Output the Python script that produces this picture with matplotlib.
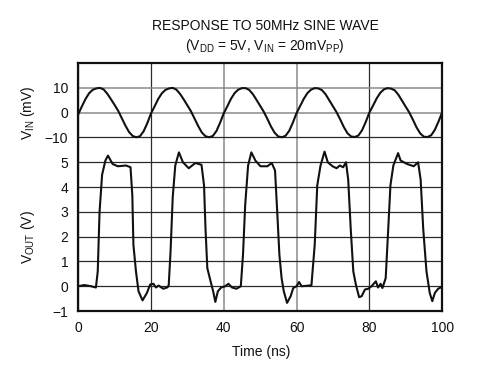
import matplotlib
matplotlib.use("Agg")
import matplotlib.pyplot as plt
import matplotlib.transforms as mtransforms

plt.rcParams['font.family'] = ['Liberation Sans', 'DejaVu Sans']
plt.rcParams['mathtext.fontset'] = 'custom'
plt.rcParams['mathtext.rm'] = 'Liberation Sans'

# VIN (mV), one sample per ns, 0..100 ns
vin_t = list(range(0, 101))
vin_mv = [
    -0.8, 2.4, 5.4, 7.8, 9.2, 9.8, 10.0, 9.4, 7.7, 5.5,
    3.2, 0.8, -2.2, -5.2, -7.8, -9.4, -9.9, -9.5, -7.5, -4.3,
    -0.4, 2.5, 5.5, 7.8, 9.2, 9.8, 10.0, 9.3, 7.6, 5.4,
    3.0, 0.6, -2.4, -5.4, -8.0, -9.5, -9.9, -9.4, -7.4, -4.1,
    -0.3, 2.6, 5.6, 7.9, 9.3, 9.9, 9.9, 9.2, 7.5, 5.2,
    2.8, 0.4, -2.5, -5.6, -8.1, -9.6, -9.9, -9.3, -7.3, -4.0,
    -0.2, 2.7, 5.6, 7.9, 9.3, 9.9, 9.8, 9.1, 7.4, 5.0,
    2.6, 0.2, -2.7, -5.8, -8.3, -9.6, -9.8, -9.2, -7.1, -3.8,
    0.0, 2.8, 5.7, 8.0, 9.4, 9.9, 9.7, 9.0, 7.2, 4.8,
    2.4, 0.0, -2.9, -6.0, -8.4, -9.7, -9.8, -9.1, -6.9, -3.6,
    0.1,
]

# VOUT (V)
vout_t = [
    0.0, 1.7, 3.6, 4.9, 5.4, 5.9, 6.6, 7.5, 8.2, 9.5, 10.9, 13.2, 14.4,
    14.9, 15.2, 15.9, 16.6, 17.7, 18.9, 19.8, 20.7, 21.4, 22.1, 23.4, 24.6,
    24.9, 25.4, 26.0, 26.7, 27.7, 28.8, 30.4, 32.2, 33.9,
    34.6, 35.0, 35.5, 36.4, 37.1, 37.7, 38.4, 39.3, 40.4, 41.3, 42.3, 43.5, 44.7,
    45.3, 45.9, 46.7, 47.6, 48.7, 50.1, 52.0, 53.2, 54.1,
    54.7, 55.3, 55.9, 56.5, 57.4, 58.4, 59.1, 60.0, 60.7, 61.4, 64.1,
    65.0, 65.7, 66.6, 67.7, 68.6, 69.9, 71.0, 71.9, 72.8, 73.6,
    74.2, 74.9, 75.6, 76.3, 77.2, 77.9, 78.8, 79.7, 80.6, 81.8, 82.4, 83.1, 83.6,
    84.5, 85.2, 85.8, 86.6, 87.9, 88.6, 90.4, 92.2, 93.4,
    94.1, 94.8, 95.7, 96.6, 97.3, 98.0, 98.9, 100.0,
]
vout_v = [
    0.0, 0.05, 0.0, -0.05, 0.6, 3.0, 4.5, 5.07, 5.27, 4.93, 4.84, 4.87, 4.8,
    3.67, 1.67, 0.6, -0.2, -0.57, -0.27, 0.07, 0.1, -0.05, 0.03, -0.1, -0.04,
    0.05, 1.4, 3.6, 4.87, 5.4, 5.0, 4.76, 4.97, 4.9,
    4.07, 2.33, 0.73, 0.2, -0.2, -0.63, -0.2, -0.05, 0.0, 0.1, -0.05, -0.1, 0.0,
    1.27, 3.27, 4.87, 5.4, 5.07, 4.84, 4.84, 4.97, 4.67,
    3.0, 1.27, 0.33, -0.2, -0.67, -0.4, -0.07, 0.0, 0.17, 0.0, 0.04,
    1.67, 4.07, 4.87, 5.43, 5.0, 4.84, 4.76, 4.87, 4.8, 5.0,
    4.3, 2.3, 0.6, 0.07, -0.44, -0.4, -0.13, -0.1, 0.0, 0.2, -0.05, 0.1, -0.07,
    0.33, 2.33, 4.07, 4.87, 5.37, 5.07, 4.93, 4.84, 5.0,
    4.3, 2.33, 0.6, -0.27, -0.6, -0.27, -0.1, -0.02,
]

x_ticks = [0, 20, 40, 60, 80, 100]
# shared vertical scale: VOUT in volts, VIN drawn 1 unit per 10 mV centred at 7
y_ticks = [-1, 0, 1, 2, 3, 4, 5, 6, 7, 8]
y_labels = ['\u22121', '0', '1', '2', '3', '4', '5', '\u221210', '0', '10']
VIN_OFFSET = 7
VIN_SCALE = 10.0

INK = '#111111'
FS = 10

fig = plt.figure(figsize=(4.88, 3.69), dpi=100)
ax = fig.add_axes([0.160, 0.157, 0.746, 0.672])

ax.plot(vin_t, [VIN_OFFSET + v / VIN_SCALE for v in vin_mv], color=INK, lw=1.5)
ax.plot(vout_t, vout_v, color=INK, lw=1.5)

ax.set_xlim(0, 100)
ax.set_ylim(-1, 9)
ax.set_xticks(x_ticks)
ax.set_yticks(y_ticks)
ax.set_yticklabels(y_labels)
ax.tick_params(length=0, labelsize=FS, colors=INK)
ax.tick_params(axis='x', pad=7.5)
ax.tick_params(axis='y', pad=7)

ax.grid(True, color='#2a2a2a', lw=0.9)
ax.set_axisbelow(True)
grey = '#8a8a8a'
for xv, gl in zip(x_ticks, ax.get_xgridlines()):
    if xv in (40, 60):
        gl.set_color(grey)
        gl.set_linewidth(1.1)
for yv, gl in zip(y_ticks, ax.get_ygridlines()):
    if yv in (7, 8):
        gl.set_color(grey)
        gl.set_linewidth(1.1)

for s in ax.spines.values():
    s.set_linewidth(1.6)
    s.set_color(INK)

trans = mtransforms.blended_transform_factory(ax.transAxes, ax.transData)
ax.text(-0.137, 7, r'$\mathregular{V_{IN}}$ (mV)', transform=trans, rotation=90,
        ha='center', va='center', fontsize=FS, color=INK)
ax.text(-0.137, 2, r'$\mathregular{V_{OUT}}$ (V)', transform=trans, rotation=90,
        ha='center', va='center', fontsize=FS, color=INK)

fig.text(0.535, 0.046, 'Time (ns)', ha='center', va='center', fontsize=FS, color=INK)
fig.text(0.543, 0.929, 'RESPONSE TO 50MHz SINE WAVE', ha='center', va='center',
         fontsize=FS, color=INK)
fig.text(0.543, 0.876, r'($\mathregular{V_{DD}}$ = 5V, $\mathregular{V_{IN}}$ = 20m$\mathregular{V_{PP}}$)',
         ha='center', va='center', fontsize=FS, color=INK)

fig.savefig('out.png', dpi=100)
